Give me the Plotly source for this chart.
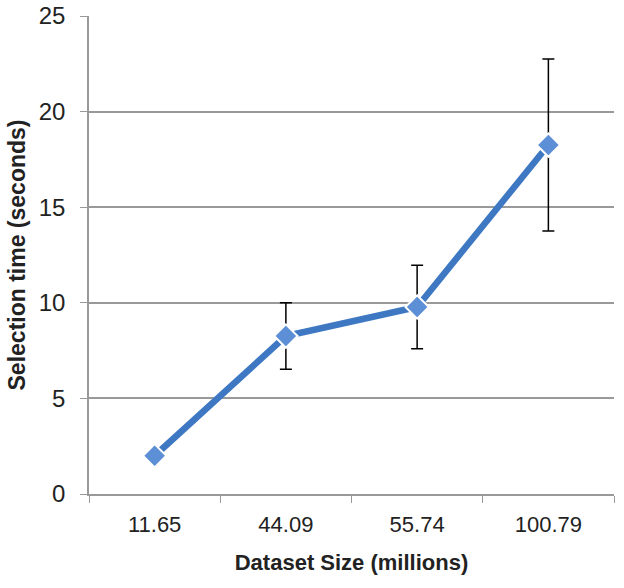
import plotly.graph_objects as go

sizes = ["11.65", "44.09", "55.74", "100.79"]
times = [2.0, 8.26, 9.78, 18.25]
errors = [0.0, 1.74, 2.18, 4.5]

fig = go.Figure()
fig.add_trace(
    go.Scatter(
        x=sizes,
        y=times,
        mode="lines+markers",
        line={"color": "#3E78C2", "width": 6.5},
        marker={"symbol": "diamond", "size": 18, "color": "#5C8FD6",
                "line": {"color": "white", "width": 2}},
        error_y={"type": "data", "array": errors, "visible": True,
                 "color": "black", "thickness": 1.5, "width": 6},
        showlegend=False,
    )
)
fig.update_layout(
    width=624,
    height=588,
    margin={"l": 89, "r": 10, "t": 16, "b": 94},
    paper_bgcolor="white",
    plot_bgcolor="white",
    font={"family": "Liberation Sans, Arial, sans-serif", "color": "#222"},
    xaxis={
        "type": "category",
        "range": [-0.5, 3.5],
        "tickson": "boundaries",
        "ticks": "outside",
        "ticklen": 7,
        "tickcolor": "#999",
        "showline": True,
        "linecolor": "#999",
        "linewidth": 1.5,
        "showgrid": False,
        "automargin": False,
        "ticklabelstandoff": 10,
        "tickfont": {"size": 22},
        "title": {"text": "<b>Dataset Size (millions)</b>", "font": {"size": 22}, "standoff": 18},
    },
    yaxis={
        "range": [0, 25],
        "dtick": 5,
        "ticks": "outside",
        "ticklen": 7,
        "tickcolor": "#999",
        "showline": True,
        "linecolor": "#999",
        "linewidth": 1.5,
        "gridcolor": "#999",
        "gridwidth": 1.5,
        "zeroline": False,
        "automargin": False,
        "ticklabeloverflow": "allow",
        "ticklabelstandoff": 10,
        "tickfont": {"size": 24},
        "title": {"text": "<b>Selection time (seconds)</b>", "font": {"size": 23}, "standoff": 7},
    },
)
# drop the browser's default 8px body margin so the figure sits at the page corner
fig.write_html(
    "out.html",
    config={"displayModeBar": False},
    post_script="document.body.style.margin = '0';",
)
